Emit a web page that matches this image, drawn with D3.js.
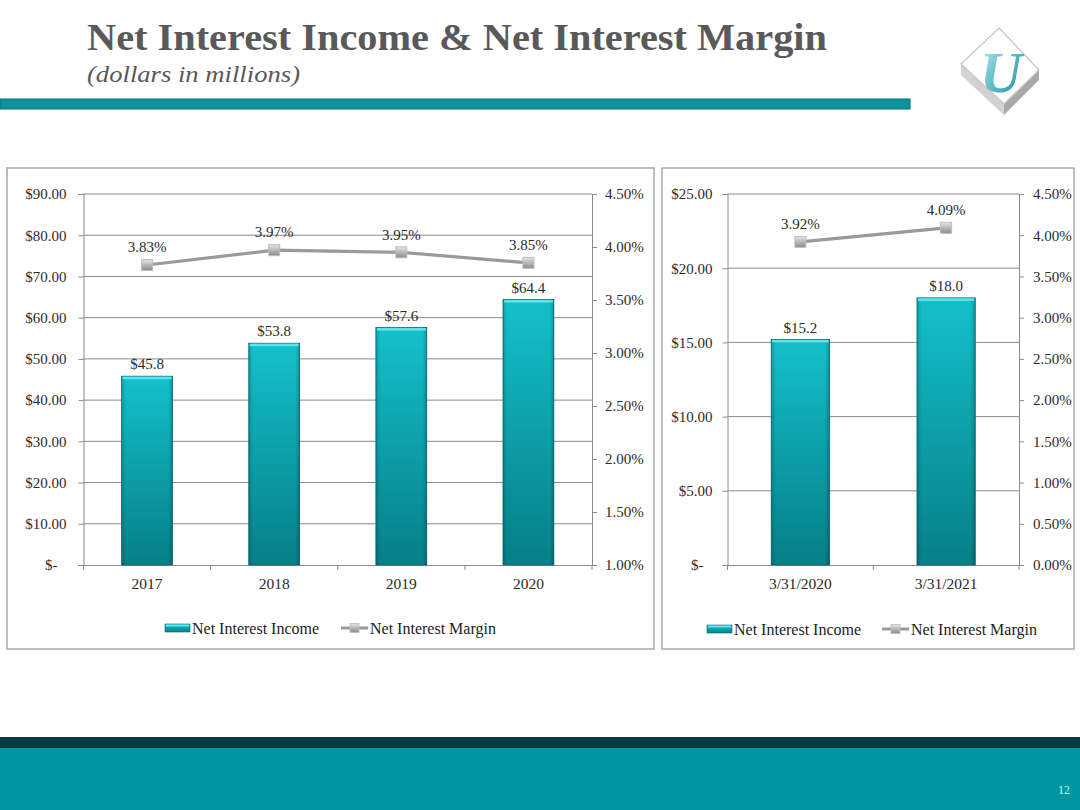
<!DOCTYPE html>
<html>
<head>
<meta charset="utf-8">
<script src="https://cdn.jsdelivr.net/npm/d3@7"></script>
<style>
  html, body { margin: 0; padding: 0; background: #ffffff; }
  svg { display: block; }
  text { font-family: "Liberation Serif", "Times New Roman", serif; }
</style>
</head>
<body>
<script>
// ---------- data ----------
const leftCategories = ["2017", "2018", "2019", "2020"];
const leftIncome = [45.8, 53.8, 57.6, 64.4];
const leftMargin = [3.83, 3.97, 3.95, 3.85];
const leftDollarTicks = [0, 10, 20, 30, 40, 50, 60, 70, 80, 90];
const leftPctTicks = [1.0, 1.5, 2.0, 2.5, 3.0, 3.5, 4.0, 4.5];

const rightCategories = ["3/31/2020", "3/31/2021"];
const rightIncome = [15.2, 18.0];
const rightMargin = [3.92, 4.09];
const rightDollarTicks = [0, 5, 10, 15, 20, 25];
const rightPctTicks = [0, 0.5, 1.0, 1.5, 2.0, 2.5, 3.0, 3.5, 4.0, 4.5];

const seriesNames = ["Net Interest Income", "Net Interest Margin"];
const titleText = "Net Interest Income & Net Interest Margin";
const subtitleText = "(dollars in millions)";
const pageNumber = "12";

// ---------- page ----------
const W = 1080, H = 810;
const svg = d3.select("body").append("svg").attr("width", W).attr("height", H);
const defs = svg.append("defs");

const barGrad = defs.append("linearGradient").attr("id", "barGrad")
  .attr("x1", 0).attr("y1", 0).attr("x2", 0).attr("y2", 1);
barGrad.append("stop").attr("offset", "0%").attr("stop-color", "#14c0ca");
barGrad.append("stop").attr("offset", "100%").attr("stop-color", "#067f88");

const barSide = defs.append("linearGradient").attr("id", "barSide")
  .attr("x1", 0).attr("y1", 0).attr("x2", 1).attr("y2", 0);
barSide.append("stop").attr("offset", "0%").attr("stop-color", "#000").attr("stop-opacity", 0.18);
barSide.append("stop").attr("offset", "8%").attr("stop-color", "#000").attr("stop-opacity", 0);
barSide.append("stop").attr("offset", "92%").attr("stop-color", "#000").attr("stop-opacity", 0);
barSide.append("stop").attr("offset", "100%").attr("stop-color", "#000").attr("stop-opacity", 0.22);

const mkGrad = defs.append("linearGradient").attr("id", "mkGrad")
  .attr("x1", 0).attr("y1", 0).attr("x2", 0).attr("y2", 1);
mkGrad.append("stop").attr("offset", "0%").attr("stop-color", "#e6e6e6");
mkGrad.append("stop").attr("offset", "100%").attr("stop-color", "#8a8a8a");

const uGrad = defs.append("linearGradient").attr("id", "uGrad")
  .attr("x1", 0).attr("y1", 0).attr("x2", 1).attr("y2", 1);
uGrad.append("stop").attr("offset", "0%").attr("stop-color", "#b5ecef");
uGrad.append("stop").attr("offset", "100%").attr("stop-color", "#08899a");

// title
svg.append("text").attr("x", 87).attr("y", 50)
  .attr("font-size", 37).attr("font-weight", "bold").attr("fill", "#595959")
  .attr("textLength", 740).attr("lengthAdjust", "spacingAndGlyphs")
  .text(titleText);
svg.append("text").attr("x", 87).attr("y", 82)
  .attr("font-size", 24).attr("font-style", "italic").attr("fill", "#595959")
  .attr("textLength", 213).attr("lengthAdjust", "spacingAndGlyphs")
  .text(subtitleText);

// header rule
svg.append("rect").attr("x", 0).attr("y", 99).attr("width", 910).attr("height", 10)
  .attr("fill", "#0a929e").attr("stroke", "#0b6f78").attr("stroke-width", 1);

// logo
const logo = svg.append("g");
logo.append("polygon").attr("points", "961,64 1004,104 1004,115 961,75").attr("fill", "#d2d2d2");
logo.append("polygon").attr("points", "1004,104 1039,70 1039,80 1004,115").attr("fill", "#a9a9a9");
logo.append("polygon").attr("points", "999,28 1039,70 1004,104 961,64")
  .attr("fill", "#ffffff").attr("stroke", "#c4c4c4").attr("stroke-width", 1.2);
logo.append("text").attr("x", 1001).attr("y", 92).attr("text-anchor", "middle")
  .attr("font-size", 58).attr("font-weight", "bold").attr("font-style", "italic")
  .attr("fill", "url(#uGrad)").text("U");

// footer
svg.append("rect").attr("x", 0).attr("y", 737).attr("width", W).attr("height", 11).attr("fill", "#033b41");
svg.append("rect").attr("x", 0).attr("y", 748).attr("width", W).attr("height", H - 748).attr("fill", "#0096a1");
svg.append("text").attr("x", 1070).attr("y", 794).attr("text-anchor", "end")
  .attr("font-size", 12).attr("fill", "#c9f6f8").text(pageNumber);

// ---------- chart drawing ----------
const TXT = "#2b2b2b";
function drawChart(cfg) {
  const g = svg.append("g");
  // panel
  g.append("rect").attr("x", cfg.panel[0]).attr("y", cfg.panel[1])
    .attr("width", cfg.panel[2]).attr("height", cfg.panel[3])
    .attr("fill", "#ffffff").attr("stroke", "#a8a8a8").attr("stroke-width", 1.5);

  const x = d3.scaleBand().domain(cfg.cats).range([cfg.x0, cfg.x1])
    .paddingInner(0.6).paddingOuter(0.3);
  const yL = d3.scaleLinear().domain(cfg.yDomain).range([cfg.yBottom, cfg.yTop]);
  const yR = d3.scaleLinear().domain(cfg.pDomain).range([cfg.yBottom, cfg.yTop]);

  // gridlines
  g.append("g").selectAll("line").data(cfg.dollarTicks.filter(d => d !== 0)).join("line")
    .attr("x1", cfg.x0).attr("x2", cfg.x1)
    .attr("y1", d => yL(d)).attr("y2", d => yL(d))
    .attr("stroke", "#8a8a8a").attr("stroke-width", 1);

  // left axis
  const fmtD = d => d === 0 ? "$-" : "$" + d.toFixed(2);
  const axL = g.append("g").attr("transform", `translate(${cfg.x0},0)`)
    .call(d3.axisLeft(yL).tickValues(cfg.dollarTicks).tickSize(5).tickPadding(cfg.padL).tickFormat(fmtD));
  axL.selectAll("path, line").attr("stroke", "#8a8a8a");
  axL.selectAll("text").attr("font-size", 15).attr("fill", TXT)
    .attr("font-family", "Liberation Serif, serif")
    .attr("dx", d => d === 0 ? -9 : 0);

  // right axis
  const fmtP = d => d.toFixed(2) + "%";
  const axR = g.append("g").attr("transform", `translate(${cfg.x1},0)`)
    .call(d3.axisRight(yR).tickValues(cfg.pctTicks).tickSize(5).tickPadding(cfg.padR).tickFormat(fmtP));
  axR.selectAll("path, line").attr("stroke", "#8a8a8a");
  axR.selectAll("text").attr("font-size", 15).attr("fill", TXT)
    .attr("font-family", "Liberation Serif, serif");

  // bottom axis (labels centered, ticks at boundaries)
  const axB = g.append("g").attr("transform", `translate(0,${cfg.yBottom})`)
    .call(d3.axisBottom(x).tickSize(0).tickPadding(13));
  axB.select("path").attr("stroke", "#8a8a8a");
  axB.selectAll("text").attr("font-size", 15.5).attr("fill", TXT)
    .attr("font-family", "Liberation Serif, serif");
  const bounds = cfg.cats.map(c => x(c) - x.step() * x.paddingInner() / 2);
  bounds.push(cfg.x1);
  g.append("g").selectAll("line").data(bounds).join("line")
    .attr("x1", d => d).attr("x2", d => d)
    .attr("y1", cfg.yBottom).attr("y2", cfg.yBottom + 5)
    .attr("stroke", "#8a8a8a");

  // bars
  const bars = g.append("g");
  cfg.cats.forEach((c, i) => {
    const bx = x(c), bw = x.bandwidth(), by = yL(cfg.income[i]), bh = yL(0) - yL(cfg.income[i]);
    bars.append("rect").attr("x", bx).attr("y", by).attr("width", bw).attr("height", bh)
      .attr("fill", "url(#barGrad)").attr("stroke", "#0a6a72").attr("stroke-width", 0.8);
    bars.append("rect").attr("x", bx).attr("y", by).attr("width", bw).attr("height", bh)
      .attr("fill", "url(#barSide)");
    bars.append("rect").attr("x", bx + 1).attr("y", by + 0.5).attr("width", bw - 2).attr("height", 2.5)
      .attr("fill", "#5fe4ec");
    g.append("text").attr("x", bx + bw / 2).attr("y", by - 12).attr("dy", "0.35em")
      .attr("text-anchor", "middle").attr("font-size", 15).attr("fill", TXT)
      .text("$" + cfg.income[i].toFixed(1));
  });

  // line
  const cx = c => x(c) + x.bandwidth() / 2;
  const line = d3.line().x((d, i) => cx(cfg.cats[i])).y(d => yR(d));
  g.append("path").datum(cfg.margin).attr("d", line)
    .attr("fill", "none").attr("stroke", "#9a9a9a").attr("stroke-width", 3.2);
  cfg.cats.forEach((c, i) => {
    g.append("rect").attr("x", cx(c) - 5.5).attr("y", yR(cfg.margin[i]) - 5.5)
      .attr("width", 11).attr("height", 11)
      .attr("fill", "url(#mkGrad)").attr("stroke", "#bdbdbd").attr("stroke-width", 1);
    g.append("text").attr("x", cx(c)).attr("y", yR(cfg.margin[i]) - 18).attr("dy", "0.35em")
      .attr("text-anchor", "middle").attr("font-size", 15).attr("fill", TXT)
      .text(cfg.margin[i].toFixed(2) + "%");
  });

  // legend
  const lg = g.append("g");
  const ly = cfg.legendY;
  lg.append("rect").attr("x", cfg.legendX).attr("y", ly - 4).attr("width", 25).attr("height", 8)
    .attr("fill", "url(#barGrad)").attr("stroke", "#0a6a72").attr("stroke-width", 0.6);
  lg.append("rect").attr("x", cfg.legendX + 1).attr("y", ly - 3.5).attr("width", 23).attr("height", 2)
    .attr("fill", "#5fe4ec");
  lg.append("text").attr("x", cfg.legendX + 27).attr("y", ly).attr("dy", "0.35em")
    .attr("font-size", 16).attr("fill", "#222").text(seriesNames[0]);
  const l2 = cfg.legendX2;
  lg.append("line").attr("x1", l2).attr("x2", l2 + 27).attr("y1", ly).attr("y2", ly)
    .attr("stroke", "#9a9a9a").attr("stroke-width", 3);
  lg.append("rect").attr("x", l2 + 9).attr("y", ly - 4.5).attr("width", 9).attr("height", 9)
    .attr("fill", "url(#mkGrad)").attr("stroke", "#bdbdbd").attr("stroke-width", 0.8);
  lg.append("text").attr("x", l2 + 29).attr("y", ly).attr("dy", "0.35em")
    .attr("font-size", 16).attr("fill", "#222").text(seriesNames[1]);
}

drawChart({
  panel: [7, 168, 647, 481],
  cats: leftCategories, income: leftIncome, margin: leftMargin,
  x0: 83.5, x1: 592, yTop: 194, yBottom: 565,
  yDomain: [0, 90], pDomain: [1.0, 4.5],
  dollarTicks: leftDollarTicks, pctTicks: leftPctTicks,
  padL: 12, padR: 8,
  legendX: 165, legendX2: 341, legendY: 628
});

drawChart({
  panel: [662, 168, 412, 481],
  cats: rightCategories, income: rightIncome, margin: rightMargin,
  x0: 727.5, x1: 1019, yTop: 194, yBottom: 565,
  yDomain: [0, 25], pDomain: [0, 4.5],
  dollarTicks: rightDollarTicks, pctTicks: rightPctTicks,
  padL: 10, padR: 9,
  legendX: 707, legendX2: 882, legendY: 629
});
</script>
</body>
</html>
